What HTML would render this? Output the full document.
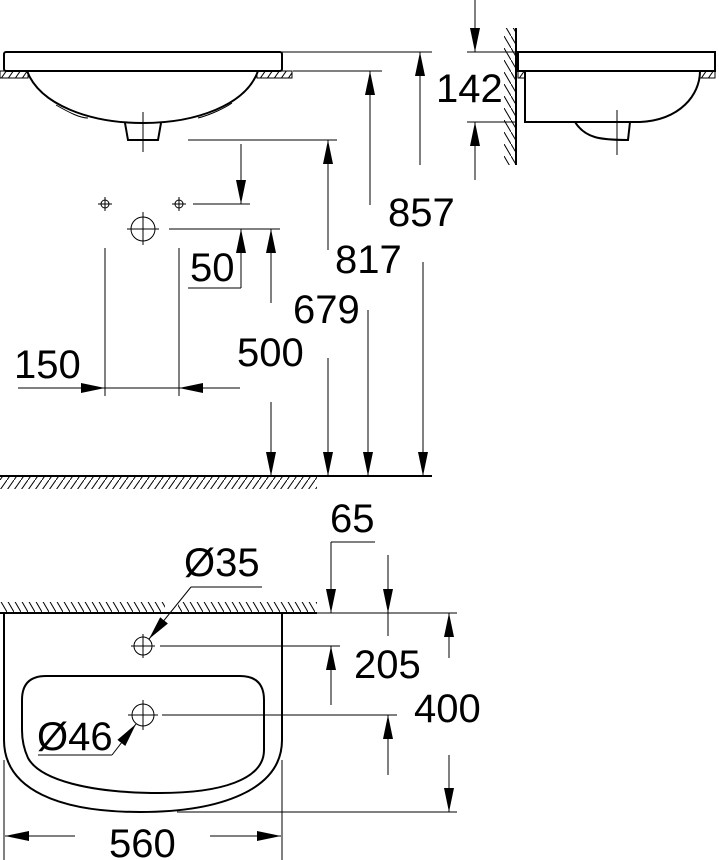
<!DOCTYPE html>
<html><head><meta charset="utf-8"><style>
html,body{margin:0;padding:0;background:#fff;}
svg{display:block;}
text{font-family:"Liberation Sans",sans-serif;font-size:40px;fill:#000;}
</style></head><body>
<svg width="719" height="860" viewBox="0 0 719 860" xmlns="http://www.w3.org/2000/svg">
<defs>
<marker id="a" markerUnits="userSpaceOnUse" markerWidth="26" markerHeight="12" refX="24" refY="6" orient="auto">
<path d="M0,1 L24,6 L0,11 Z" fill="#000"/>
</marker>
<pattern id="h" width="7" height="10" patternUnits="userSpaceOnUse">
<path d="M0,10 L7,0" stroke="#000" stroke-width="1"/>
</pattern>
<pattern id="hb" width="7" height="12" patternUnits="userSpaceOnUse">
<path d="M0,0 L7,12" stroke="#000" stroke-width="1"/>
</pattern>
</defs>
<g stroke="#000" fill="none" stroke-width="1">
<rect x="4" y="52" width="278" height="19" rx="2" stroke-width="2"/>
<rect x="0" y="71" width="28" height="7" fill="url(#h)"/>
<rect x="257" y="71" width="35" height="7" fill="url(#h)"/>
<path d="M27,71 C40,105 90,123 143,123 C196,123 246,105 258,71" stroke-width="2"/>
<path d="M56,105 C70,113 80,118 88,118 M198,118 C210,115 225,108 232,103" stroke-width="1"/>
<path d="M125,123 L128,140 L158,140 L161,123" stroke-width="2"/>
<line x1="143" y1="112" x2="143" y2="152"/>
<line x1="282" y1="52" x2="432" y2="52"/>
<line x1="293" y1="71" x2="382" y2="71"/>
<line x1="188" y1="140" x2="337" y2="140"/>
<circle cx="105" cy="204" r="4"/><line x1="98" y1="204" x2="112" y2="204"/><line x1="105" y1="197" x2="105" y2="211"/>
<circle cx="179" cy="204" r="4"/><line x1="172" y1="204" x2="186" y2="204"/><line x1="179" y1="197" x2="179" y2="211"/>
<circle cx="143" cy="229" r="12"/><line x1="127" y1="229" x2="159" y2="229"/><line x1="143" y1="212" x2="143" y2="245"/>
<line x1="193" y1="204" x2="250" y2="204"/>
<line x1="169" y1="229" x2="280" y2="229"/>
<line x1="241" y1="144" x2="241" y2="204" marker-end="url(#a)"/>
<line x1="241" y1="288" x2="241" y2="229" marker-end="url(#a)"/>
<line x1="188" y1="288" x2="241" y2="288"/>
<line x1="271" y1="303" x2="271" y2="229" marker-end="url(#a)"/>
<line x1="271" y1="402" x2="271" y2="476" marker-end="url(#a)"/>
<line x1="328" y1="250" x2="328" y2="140" marker-end="url(#a)"/>
<line x1="328" y1="358" x2="328" y2="476" marker-end="url(#a)"/>
<line x1="370" y1="205" x2="370" y2="71" marker-end="url(#a)"/>
<line x1="368" y1="310" x2="368" y2="476" marker-end="url(#a)"/>
<line x1="420" y1="165" x2="420" y2="52" marker-end="url(#a)"/>
<line x1="423" y1="262" x2="423" y2="476" marker-end="url(#a)"/>
<line x1="105" y1="248" x2="105" y2="396"/>
<line x1="179" y1="248" x2="179" y2="396"/>
<line x1="18" y1="388" x2="105" y2="388" marker-end="url(#a)"/>
<line x1="240" y1="388" x2="179" y2="388" marker-end="url(#a)"/>
<line x1="105" y1="388" x2="179" y2="388"/>
<line x1="0" y1="476" x2="432" y2="476" stroke-width="2"/>
<rect x="0" y="477" width="317" height="12" fill="url(#h)" stroke="none"/>

<line x1="516" y1="28" x2="516" y2="165" stroke-width="2"/>
<rect x="504" y="28" width="12" height="137" fill="url(#hb)" stroke="none"/>
<rect x="518" y="52" width="197" height="19" stroke-width="2"/>
<rect x="518" y="71" width="7" height="7" fill="url(#h)"/>
<rect x="700" y="71" width="15" height="7" fill="url(#h)"/>
<path d="M525,71 L525,122 L640,122 C680,120 700,95 700,71" stroke-width="2"/>
<path d="M575,122 C585,138 600,140 628,140 L630,122" stroke-width="2"/>
<line x1="617" y1="110" x2="617" y2="155"/>
<line x1="475" y1="0" x2="475" y2="52" marker-end="url(#a)"/>
<line x1="475" y1="180" x2="475" y2="122" marker-end="url(#a)"/>
<line x1="467" y1="52" x2="516" y2="52"/>
<line x1="467" y1="122" x2="516" y2="122"/>

<line x1="0" y1="613" x2="317" y2="613" stroke-width="2"/>
<rect x="0" y="602" width="165" height="11" fill="url(#hb)" stroke="none"/>
<rect x="178" y="602" width="139" height="11" fill="url(#hb)" stroke="none"/>
<path d="M4,613 L4,740 C4,790 60,812 140,812 C220,812 282,790 282,740 L282,613" stroke-width="2"/>
<path d="M22,700 Q22,676 46,676 L240,676 Q264,676 264,700 L264,750 C264,780 220,793 160,793 C90,793 40,780 28,758 Q22,745 22,730 Z" stroke-width="2"/>
<circle cx="143" cy="646" r="9"/><line x1="131" y1="646" x2="155" y2="646"/><line x1="143" y1="634" x2="143" y2="658"/>
<circle cx="143" cy="715" r="11"/><line x1="128" y1="715" x2="158" y2="715"/><line x1="143" y1="700" x2="143" y2="730"/>
<line x1="160" y1="646" x2="340" y2="646"/>
<line x1="162" y1="715" x2="397" y2="715"/>
<line x1="317" y1="613" x2="457" y2="613"/>
<line x1="177" y1="812" x2="457" y2="812"/>
<line x1="331" y1="542" x2="375" y2="542"/>
<line x1="331" y1="542" x2="331" y2="613" marker-end="url(#a)"/>
<line x1="331" y1="705" x2="331" y2="646" marker-end="url(#a)"/>
<line x1="388" y1="555" x2="388" y2="613" marker-end="url(#a)"/>
<line x1="388" y1="775" x2="388" y2="715" marker-end="url(#a)"/>
<line x1="388" y1="613" x2="388" y2="636"/>
<line x1="449" y1="658" x2="449" y2="613" marker-end="url(#a)"/>
<line x1="449" y1="755" x2="449" y2="812" marker-end="url(#a)"/>
<line x1="262" y1="587" x2="191" y2="587"/>
<line x1="191" y1="587" x2="149" y2="639" marker-end="url(#a)"/>
<line x1="38" y1="755" x2="112" y2="755"/>
<line x1="112" y1="755" x2="136" y2="724" marker-end="url(#a)"/>
<line x1="4" y1="760" x2="4" y2="860"/>
<line x1="282" y1="760" x2="282" y2="860"/>
<line x1="75" y1="836" x2="5" y2="836" marker-end="url(#a)"/>
<line x1="210" y1="836" x2="281" y2="836" marker-end="url(#a)"/>
</g>
<g>
<text x="388" y="226">857</text>
<text x="335" y="273">817</text>
<text x="293" y="323">679</text>
<text x="237" y="366">500</text>
<text x="14" y="378">150</text>
<text x="190" y="281">50</text>
<text x="436" y="102">142</text>
<text x="330" y="532">65</text>
<text x="184" y="576">Ø35</text>
<text x="354" y="678">205</text>
<text x="414" y="722">400</text>
<text x="37" y="750">Ø46</text>
<text x="109" y="857">560</text>
</g>
</svg>
</body></html>
